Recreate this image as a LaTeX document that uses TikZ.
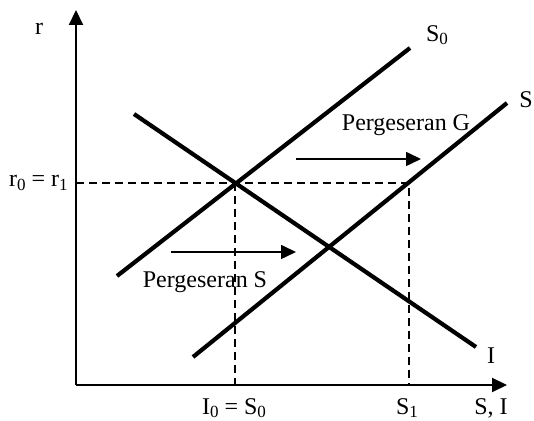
\documentclass[tikz,border=0pt]{standalone}
\usepackage{fontspec}
\setmainfont{Liberation Serif}
\usetikzlibrary{arrows.meta}

% indeks kecil seperti pada gambar asli
\newcommand{\idx}[1]{\raisebox{-0.3ex}{\fontsize{8.5}{9}\selectfont #1}}

\begin{document}
\begin{tikzpicture}[x=0.5pt, y=0.5pt, >={Triangle[length=7.5pt, width=7pt]},
    kurva/.style={line width=2.1pt},
    bantu/.style={dash pattern=on 4pt off 2.5pt, line width=0.6pt},
    geser/.style={->, line width=0.8pt},
    teks/.style={font=\fontsize{12}{14}\selectfont, inner sep=0pt}]
    \useasboundingbox (-76,-36) rectangle (458,385);

    % Sumbu koordinat
    \draw[->, line width=1pt] (0,0) -- (431,0);
    \draw[->, line width=1pt] (0,0) -- (0,375);

    % Kurva I, S0 dan S
    \draw[kurva] (58,271) -- (400,38);
    \draw[kurva] (41,109) -- (334,337);
    \draw[kurva] (117,28) -- (431,282);

    % Titik keseimbangan
    \coordinate (E0) at (159,202);
    \coordinate (E1) at (333,202);
    \draw[bantu] (0,202) -- (E1) -- (333,0);
    \draw[bantu] (E0) -- (159,0);

    % Pergeseran
    \draw[geser] (220,226) -- (345,226);
    \draw[geser] (95,133) -- (220,133);

    % Label
    \node[teks] (r) at (-37,356) {r};
    \node[teks, anchor=east] (r0) at (-8,202) {r\idx{0} = r\idx{1}};
    \node[teks] (lS0) at (361,350) {S\idx{0}};
    \node[teks] (lS) at (450,285) {S};
    \node[teks] (lI) at (415,29) {I};
    \node[teks] (pG) at (330,260) {Pergeseran G};
    \node[teks] (pS) at (129,103) {Pergeseran S};
    \node[teks] (I0) at (158,-23) {I\idx{0} = S\idx{0}};
    \node[teks] (S1) at (331,-23) {S\idx{1}};
    \node[teks] (SI) at (415,-23) {S, I};
\end{tikzpicture}
\end{document}
